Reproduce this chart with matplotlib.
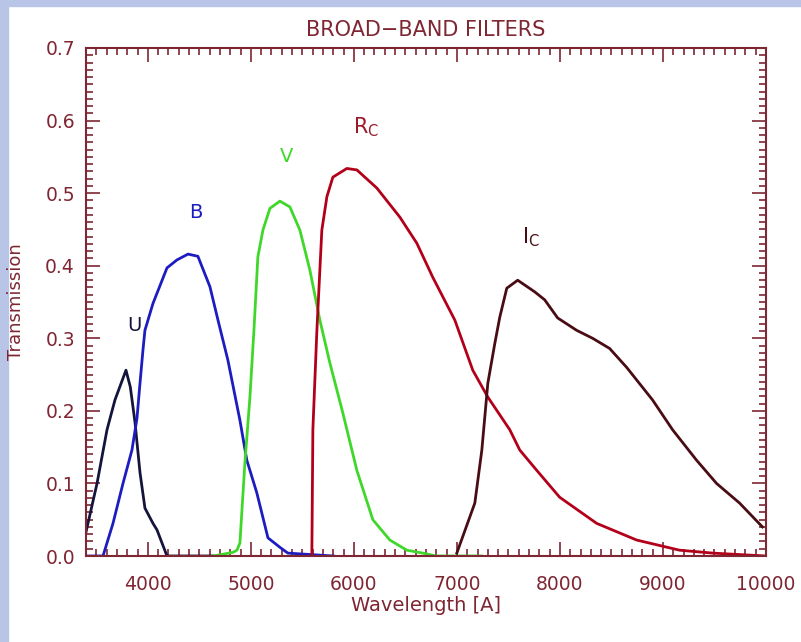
import matplotlib
matplotlib.use("Agg")
import matplotlib.pyplot as plt
from matplotlib.patches import Rectangle
from matplotlib.ticker import MultipleLocator

# filter curves: wavelength [A], transmission
u_wl = [3400, 3507, 3604, 3681, 3788, 3830, 3875, 3924, 3972, 4050, 4089, 4186, 4630]
u_tr = [0.033, 0.100, 0.174, 0.215, 0.256, 0.233, 0.185, 0.115, 0.066, 0.045, 0.036, 0.0, 0.0]

b_wl = [3400, 3565, 3662, 3759, 3846, 3895, 3924, 3953, 3972, 4050, 4186, 4283, 4390, 4486,
        4603, 4681, 4777, 4894, 4961, 5058, 5166, 5282, 5359, 5800]
b_tr = [0.0, 0.0, 0.045, 0.100, 0.146, 0.190, 0.238, 0.284, 0.311, 0.348, 0.397, 0.408, 0.416, 0.413,
        0.371, 0.325, 0.270, 0.187, 0.132, 0.087, 0.025, 0.012, 0.004, 0.0]

v_wl = [4632, 4826, 4865, 4894, 4942, 4991, 5030, 5068, 5117, 5185, 5282, 5379, 5476,
        5573, 5670, 5767, 5893, 6029, 6184, 6349, 6514, 6669, 6800, 7240]
v_tr = [0.0, 0.005, 0.008, 0.018, 0.128, 0.219, 0.311, 0.412, 0.449, 0.479, 0.489, 0.481, 0.449,
        0.394, 0.325, 0.266, 0.197, 0.118, 0.050, 0.022, 0.008, 0.004, 0.0, 0.0]

r_wl = [5592, 5602, 5641, 5689, 5738, 5796, 5932, 6029, 6223, 6446, 6611, 6766, 6980,
        7154, 7300, 7513, 7610, 7775, 7997, 8356, 8744, 9161, 9482, 10000]
r_tr = [0.0, 0.174, 0.311, 0.449, 0.495, 0.522, 0.534, 0.532, 0.507, 0.467, 0.431, 0.384, 0.325,
        0.256, 0.219, 0.174, 0.146, 0.118, 0.081, 0.045, 0.022, 0.008, 0.004, 0.0]

i_wl = [6999, 7174, 7242, 7300, 7368, 7416, 7484, 7590, 7755, 7852, 7978, 8162, 8317,
        8482, 8647, 8899, 9093, 9326, 9520, 9743, 9966]
i_tr = [0.004, 0.073, 0.146, 0.238, 0.293, 0.329, 0.369, 0.380, 0.364, 0.353, 0.328, 0.311, 0.300,
        0.286, 0.260, 0.215, 0.174, 0.132, 0.100, 0.073, 0.040]

ink = '#7e2632'

fig = plt.figure(figsize=(8.01, 6.42), dpi=100)
fig.patch.set_facecolor('white')
# light blue strips along left and top edge
fig.add_artist(Rectangle((0, 0), 8/801, 1, transform=fig.transFigure, color='#b9c5e6', zorder=0))
fig.add_artist(Rectangle((0, 1 - 6/642), 1, 6/642, transform=fig.transFigure, color='#b9c5e6', zorder=0))

ax = fig.add_axes([86/801, 86/642, 680/801, 508/642])

ax.plot(u_wl, u_tr, color='#14143c', lw=2.0)
ax.plot(b_wl, b_tr, color='#1c1cc0', lw=2.0)
ax.plot(v_wl, v_tr, color='#3fd82a', lw=2.0)
ax.plot(r_wl, r_tr, color='#b3001a', lw=2.0)
ax.plot(i_wl, i_tr, color='#4a0c14', lw=2.0)

ax.set_xlim(3400, 10000)
ax.set_ylim(0, 0.7)

ax.xaxis.set_major_locator(MultipleLocator(1000))
ax.xaxis.set_minor_locator(MultipleLocator(100))
ax.yaxis.set_major_locator(MultipleLocator(0.1))
ax.yaxis.set_minor_locator(MultipleLocator(0.01))
ax.set_xticks([4000, 5000, 6000, 7000, 8000, 9000, 10000])
ax.set_yticklabels(['%.1f' % v for v in ax.get_yticks()])

#штрихи внутрь со всех сторон
ax.tick_params(which='major', direction='in', length=10, width=1.2, color=ink,
               top=True, right=True, labelsize=13.5, labelcolor=ink)
ax.tick_params(which='minor', direction='in', length=5, width=1.2, color=ink,
               top=True, right=True)
ax.tick_params(axis='x', pad=14)
ax.tick_params(axis='y', pad=8)
for s in ax.spines.values():
    s.set_color(ink)
    s.set_linewidth(1.5)

ax.set_title('BROAD\u2212BAND FILTERS', color=ink, fontsize=15, pad=9)
ax.set_xlabel('Wavelength [A]', color=ink, fontsize=14, labelpad=1)
fig.text(16/801, 1 - 302/642, 'Transmission', rotation=90, color=ink,
         fontsize=13, ha='center', va='center')

# filter names
ax.text(3866, 0.318, 'U', color='#14143c', fontsize=14, ha='center', va='center')
ax.text(4467, 0.473, 'B', color='#1c1cc0', fontsize=14, ha='center', va='center')
ax.text(5350, 0.550, 'V', color='#3fd82a', fontsize=14, ha='center', va='center')
ax.text(5990, 0.591, r'R$_\mathregular{C}$', color='#9a1a2a', fontsize=15, ha='left', va='center')
ax.text(7630, 0.439, r'I$_\mathregular{C}$', color='#4a0c14', fontsize=15, ha='left', va='center')

fig.savefig('out.png', dpi=100)
